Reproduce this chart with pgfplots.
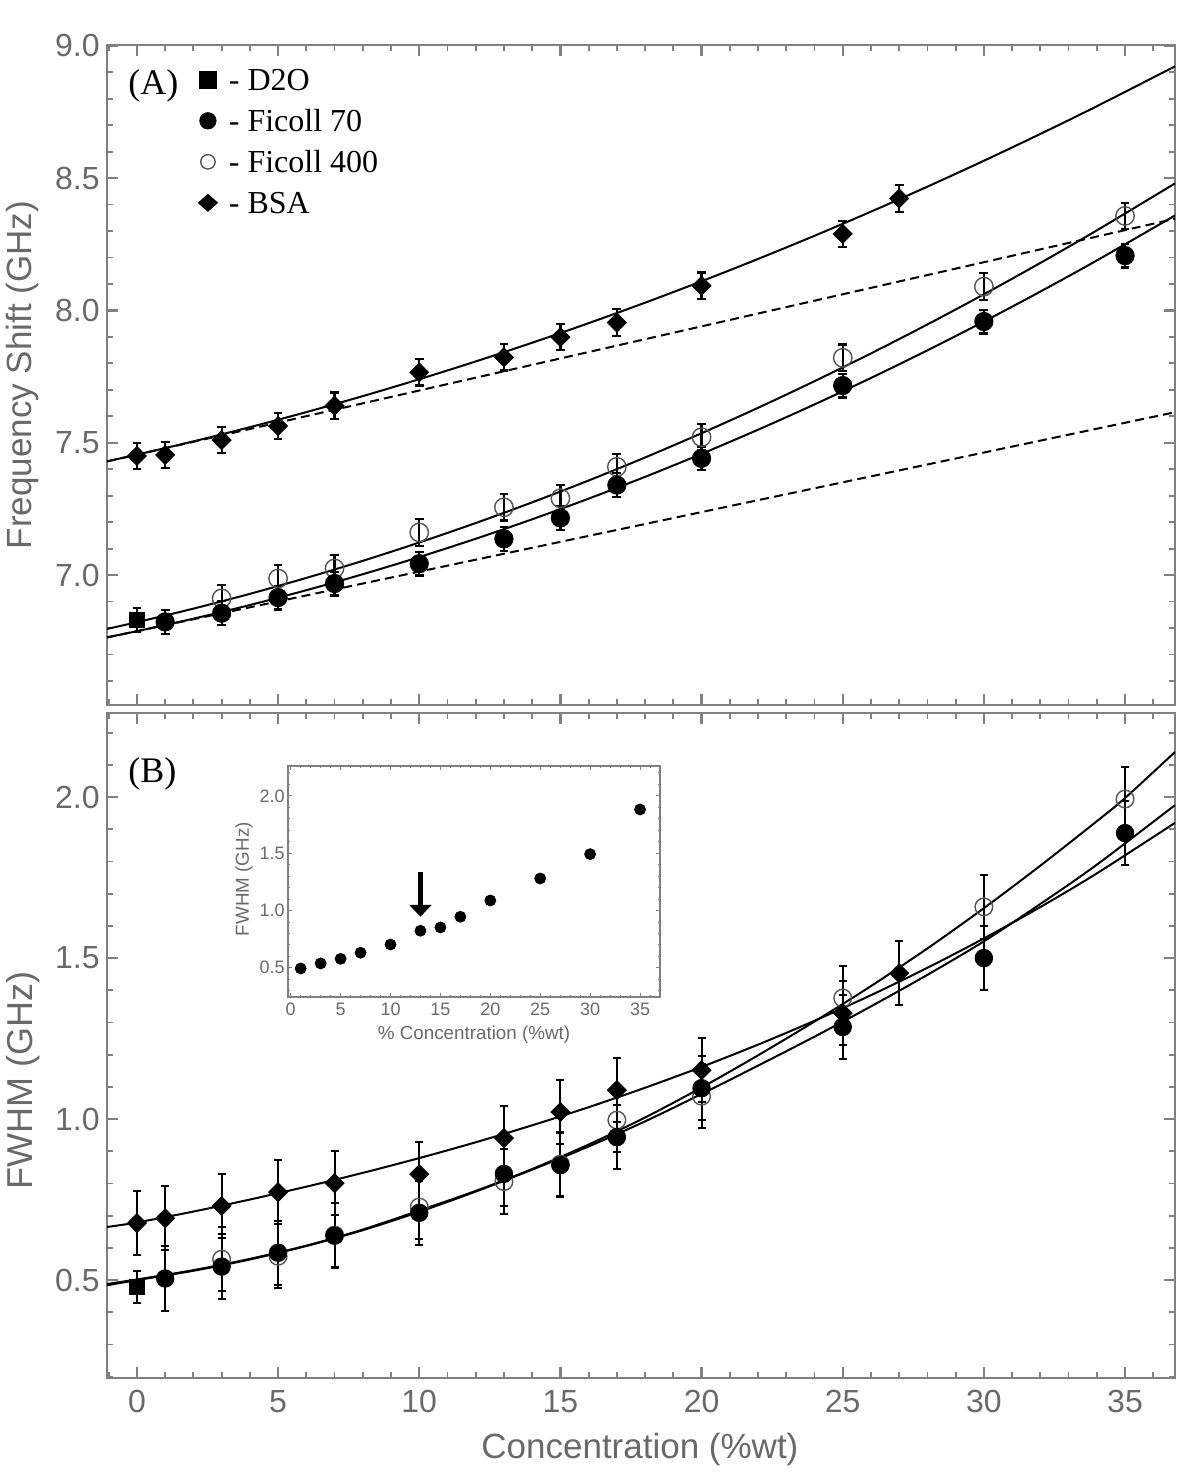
\documentclass[border=0pt]{standalone}
\usepackage{fontspec}
\setmainfont{Liberation Serif}
\newfontfamily\sansf{Liberation Sans}
\usepackage{pgfplots}
\pgfplotsset{compat=1.18}
\usepackage{pgfplotstable}
\usetikzlibrary{arrows.meta}
\definecolor{framegray}{RGB}{128,128,128}
\definecolor{labelgray}{RGB}{105,105,105}
\definecolor{circgray}{RGB}{85,85,85}
\newcommand\tickfont{\sansf\fontsize{16}{19}\selectfont}
\newcommand\labfont{\sansf\fontsize{17.5}{21}\selectfont}
\newcommand\legfont{\fontsize{16}{19}\selectfont}
\newcommand\letfont{\fontsize{18}{21}\selectfont}
\newcommand\itickfont{\sansf\fontsize{9}{11}\selectfont}
\newcommand\ilabfont{\sansf\fontsize{9.4}{11}\selectfont}

% ---------------- Panel A data ----------------
\pgfplotstableread{
x y e
0 6.830 0.045
}\Adtwo
\pgfplotstableread{
x y e
1 6.823 0.045
3 6.856 0.045
5 6.915 0.045
7 6.968 0.045
10 7.043 0.045
13 7.137 0.045
15 7.216 0.045
17 7.340 0.045
20 7.441 0.045
25 7.716 0.045
30 7.958 0.045
35 8.207 0.045
}\Afsev
\pgfplotstableread{
x y e
3 6.912 0.05
5 6.987 0.05
7 7.025 0.05
10 7.161 0.05
13 7.256 0.05
15 7.290 0.05
17 7.409 0.05
20 7.521 0.05
25 7.821 0.05
30 8.090 0.05
35 8.357 0.05
}\Affour
\pgfplotstableread{
x y e
0 7.450 0.05
1 7.454 0.05
3 7.510 0.05
5 7.563 0.05
7 7.640 0.05
10 7.766 0.05
13 7.823 0.05
15 7.899 0.05
17 7.954 0.05
20 8.093 0.05
25 8.289 0.05
27 8.423 0.05
}\Absa
\pgfplotstableread{
x y
-1.06 7.4298
0 7.4550
2 7.5052
4 7.5588
6 7.6158
8 7.6762
10 7.7400
12 7.8072
14 7.8779
16 7.9519
18 8.0293
20 8.1102
22 8.1945
24 8.2821
26 8.3732
28 8.4677
30 8.5656
32 8.6669
34 8.7716
36.77 8.9223
}\AfitBSA
\pgfplotstableread{
x y
-1.06 6.7966
0 6.8220
2 6.8732
4 6.9290
6 6.9892
8 7.0538
10 7.1230
12 7.1966
14 7.2748
16 7.3574
18 7.4444
20 7.5360
22 7.6320
24 7.7326
26 7.8376
28 7.9470
30 8.0610
32 8.1794
34 8.3024
36.77 8.4800
}\AfitFfour
\pgfplotstableread{
x y
-1.06 6.7648
0 6.7880
2 6.8352
4 6.8868
6 6.9428
8 7.0032
10 7.0680
12 7.1372
14 7.2108
16 7.2888
18 7.3712
20 7.4580
22 7.5492
24 7.6448
26 7.7448
28 7.8492
30 7.9580
32 8.0712
34 8.1888
36.77 8.3589
}\AfitFsev
\pgfplotstableread{
x y
-1.06 7.4293
36.77 8.3463
}\AdashUp
\pgfplotstableread{
x y
-1.06 6.7642
36.77 7.6153
}\AdashLo

% ---------------- Panel B data ----------------
\pgfplotstableread{
x y e
0 0.478 0.05
}\Bdtwo
\pgfplotstableread{
x y e
1 0.505 0.1
3 0.542 0.1
5 0.585 0.1
7 0.638 0.1
10 0.709 0.1
13 0.830 0.1
15 0.857 0.1
17 0.944 0.1
20 1.096 0.1
25 1.286 0.1
30 1.500 0.1
35 1.888 0.1
}\Bfsev
\pgfplotstableread{
x y e
3 0.565 0.1
5 0.574 0.1
7 0.640 0.1
10 0.727 0.1
13 0.806 0.1
15 0.860 0.1
17 0.997 0.1
20 1.071 0.1
25 1.376 0.1
30 1.659 0.1
35 1.994 0.1
}\Bffour
\pgfplotstableread{
x y e
0 0.677 0.1
1 0.692 0.1
3 0.730 0.1
5 0.773 0.1
7 0.801 0.1
10 0.829 0.1
13 0.941 0.1
15 1.022 0.1
17 1.090 0.1
20 1.152 0.1
25 1.329 0.1
27 1.453 0.1
}\Bbsa
\pgfplotstableread{
x y
-1.06 0.6650
0 0.6790
2 0.7129
4 0.7502
6 0.7902
8 0.8330
10 0.8789
12 0.9280
14 0.9807
16 1.0370
18 1.0974
20 1.1620
22 1.2312
24 1.3054
26 1.3848
28 1.4699
30 1.5610
32 1.6585
34 1.7630
36.77 1.9200
}\BfitBSA
\pgfplotstableread{
x y
-1.06 0.484
0 0.500
2 0.529
4 0.564
6 0.606
8 0.655
10 0.712
12 0.775
14 0.843
16 0.915
18 0.993
20 1.078
22 1.166
24 1.256
26 1.350
28 1.448
30 1.552
32 1.668
34 1.790
36.77 1.975
}\BfitFsev
\pgfplotstableread{
x y
-1.06 0.488
0 0.502
2 0.531
4 0.566
6 0.607
8 0.657
10 0.716
12 0.777
14 0.845
16 0.921
18 1.005
20 1.098
22 1.198
24 1.303
26 1.413
28 1.530
30 1.655
32 1.787
34 1.925
35 1.997
36.77 2.140
}\BfitFfour
% ---------------- Inset data ----------------
\pgfplotstableread{
x y
1 0.494
3 0.538
5 0.578
7 0.631
10 0.703
13 0.823
15 0.852
17 0.945
20 1.087
25 1.279
30 1.491
35 1.881
}\Inset

\pgfplotsset{
  panel/.style={
    scale only axis, width=534pt,
    xmin=-1.06, xmax=36.77,
    xtick={0,5,...,35}, minor xtick={-1,0,...,36},
    tick align=inside, tick pos=both,
    axis line style={draw=framegray, line width=1.3pt},
    major tick style={draw=framegray, line width=1.1pt},
    minor tick style={draw=framegray, line width=0.9pt},
    major tick length=5.5pt, minor tick length=3pt,
    tick label style={font=\tickfont, text=labelgray},
    label style={font=\labfont, text=labelgray},
    ylabel style={at={(axis description cs:-0.0787,0.5)}, anchor=center},
    yticklabel style={anchor=east, inner sep=0pt, xshift=-3.5pt, /pgf/number format/.cd, fixed, fixed zerofill, precision=1, assume math mode=true},
    xticklabel style={anchor=north, inner sep=0pt, yshift=-6pt, /pgf/number format/.cd, fixed, precision=0, assume math mode=true},
  },
  fitline/.style={black, line width=1pt, smooth, no markers, forget plot},
  dashline/.style={black, line width=1pt, dash pattern=on 4.5pt off 2.6pt, no markers, forget plot},
  ebA/.style={error bars/.cd, y dir=both, y explicit,
    error bar style={line width=1.1pt, black},
    error mark options={rotate=90, mark size=2.2pt, line width=1.1pt, black}},
  ebB/.style={error bars/.cd, y dir=both, y explicit,
    error bar style={line width=1pt, black},
    error mark options={rotate=90, mark size=2pt, line width=1pt, black}},
  mkfill/.style={only marks, black, forget plot, mark=*, mark size=4.6pt, mark options={fill=black, draw=black, line width=0.4pt}},
  mkopen/.style={only marks, black, forget plot, mark=o, mark size=4.6pt, mark options={draw=circgray, line width=0.7pt, fill=none}},
  mkdiam/.style={only marks, black, forget plot, mark=diamond*, mark size=4.75pt, mark options={xscale=1.33, fill=black, draw=black, line width=0.4pt}},
  mksq/.style={only marks, black, forget plot, mark=square*, mark size=3.8pt, mark options={fill=black, draw=black}},
}

\begin{document}
\begin{tikzpicture}
\path[use as bounding box] (0pt,0pt) rectangle (590pt,-738.5pt);

% ================= Panel A =================
\begin{axis}[panel,
  at={(53.5pt,-352.5pt)}, anchor=south west, height=330pt,
  ymin=6.509, ymax=9.003,
  ytick={7.0,7.5,8.0,8.5,9.0}, minor ytick={6.6,6.7,...,9.0},
  xticklabels={},
  ylabel={Frequency Shift (GHz)},
  legend style={at={(axis cs:2.09,8.9225)}, anchor=north west, draw=none, fill=none,
    inner sep=0pt, outer sep=0pt, font=\legfont, row sep=7pt, column sep=4.5pt,
    nodes={inner sep=0pt, text height=12pt, text depth=1.5pt}},
  legend cell align=left,
  legend image code/.code={\path[draw=none] (-6pt,0pt) rectangle (6pt,0.1pt); \draw[#1,/tikz/only marks] plot coordinates {(0pt,0pt)};},
]
\addlegendimage{black, mark=square*, mark size=4.3pt, mark options={fill=black}}
\addlegendimage{black, mark=*, mark size=4.1pt, mark options={fill=black}}
\addlegendimage{black, mark=o, mark size=3.6pt, mark options={draw=circgray, line width=0.7pt}}
\addlegendimage{black, mark=diamond*, mark size=4.25pt, mark options={xscale=1.5, fill=black}}
\legend{- D2O, - Ficoll 70, - Ficoll 400, - BSA}

\addplot[dashline] table[x=x,y=y] {\AdashUp};
\addplot[dashline] table[x=x,y=y] {\AdashLo};
\addplot[fitline] table[x=x,y=y] {\AfitBSA};
\addplot[fitline] table[x=x,y=y] {\AfitFfour};
\addplot[fitline] table[x=x,y=y] {\AfitFsev};

\addplot[mkopen, ebA] table[x=x,y=y,y error=e] {\Affour};
\addplot[mkfill, ebA] table[x=x,y=y,y error=e] {\Afsev};
\addplot[mkdiam, ebA] table[x=x,y=y,y error=e] {\Absa};
\addplot[mksq, ebA] table[x=x,y=y,y error=e] {\Adtwo};

\node[font=\letfont, anchor=west, inner sep=0pt] at (axis cs:-0.32,8.849) {(A)};
\end{axis}

% ================= Panel B =================
\begin{axis}[panel,
  at={(53.5pt,-689pt)}, anchor=south west, height=332.5pt,
  ymin=0.196, ymax=2.261,
  ytick={0.5,1.0,1.5,2.0}, minor ytick={0.2,0.3,...,2.2},
  ylabel={FWHM (GHz)},
  ylabel style={at={(axis description cs:-0.0787,0.447)}, anchor=center, font=\sansf\fontsize{18}{21}\selectfont},
  xlabel={Concentration (\%wt)},
  xlabel style={at={(axis description cs:0.499,-0.1068)}, anchor=center},
]
\addplot[fitline] table[x=x,y=y] {\BfitBSA};
\addplot[fitline] table[x=x,y=y] {\BfitFsev};
\addplot[fitline] table[x=x,y=y] {\BfitFfour};

\addplot[mkopen, mark size=4.4pt, ebB] table[x=x,y=y,y error=e] {\Bffour};
\addplot[mkfill, mark size=4.4pt, ebB] table[x=x,y=y,y error=e] {\Bfsev};
\addplot[mkdiam, ebB] table[x=x,y=y,y error=e] {\Bbsa};
\addplot[mksq, ebB] table[x=x,y=y,y error=e] {\Bdtwo};

\node[font=\letfont, anchor=west, inner sep=0pt] at (axis cs:-0.32,2.071) {(B)};
\end{axis}

% ================= Inset =================
\begin{axis}[
  scale only axis, width=186pt, height=115.5pt,
  at={(144pt,-498.5pt)}, anchor=south west,
  axis background/.style={fill=white},
  xmin=-0.27, xmax=37.0, ymin=0.245, ymax=2.26,
  xtick={0,5,...,35}, minor xtick={0,1,...,37},
  ytick={0.5,1.0,1.5,2.0}, minor ytick={0.3,0.4,...,2.2},
  tick align=inside, tick pos=both,
  axis line style={draw=framegray, line width=0.7pt},
  major tick style={draw=framegray, line width=0.5pt},
  minor tick style={draw=framegray, line width=0.4pt},
  major tick length=2pt, minor tick length=1.2pt,
  tick label style={font=\itickfont, text=labelgray},
  label style={font=\ilabfont, text=labelgray},
  xlabel={\% Concentration (\%wt)},
  ylabel={FWHM (GHz)},
  xlabel style={at={(axis description cs:0.5,-0.1645)}, anchor=center},
  ylabel style={at={(axis description cs:-0.118,0.51)}, anchor=center},
  yticklabel style={anchor=east, inner sep=0pt, xshift=-1.5pt, /pgf/number format/.cd, fixed, fixed zerofill, precision=1, assume math mode=true},
  xticklabel style={anchor=north, inner sep=0pt, yshift=-3pt, /pgf/number format/.cd, fixed, precision=0, assume math mode=true},
]
\addplot[only marks, black, mark=*, mark size=2.75pt] table[x=x,y=y] {\Inset};
\draw[black, line width=2.6pt, -{Triangle[width=11pt,length=6pt]}] (axis cs:13,1.337) -- (axis cs:13,0.945);
\end{axis}
\end{tikzpicture}
\end{document}
